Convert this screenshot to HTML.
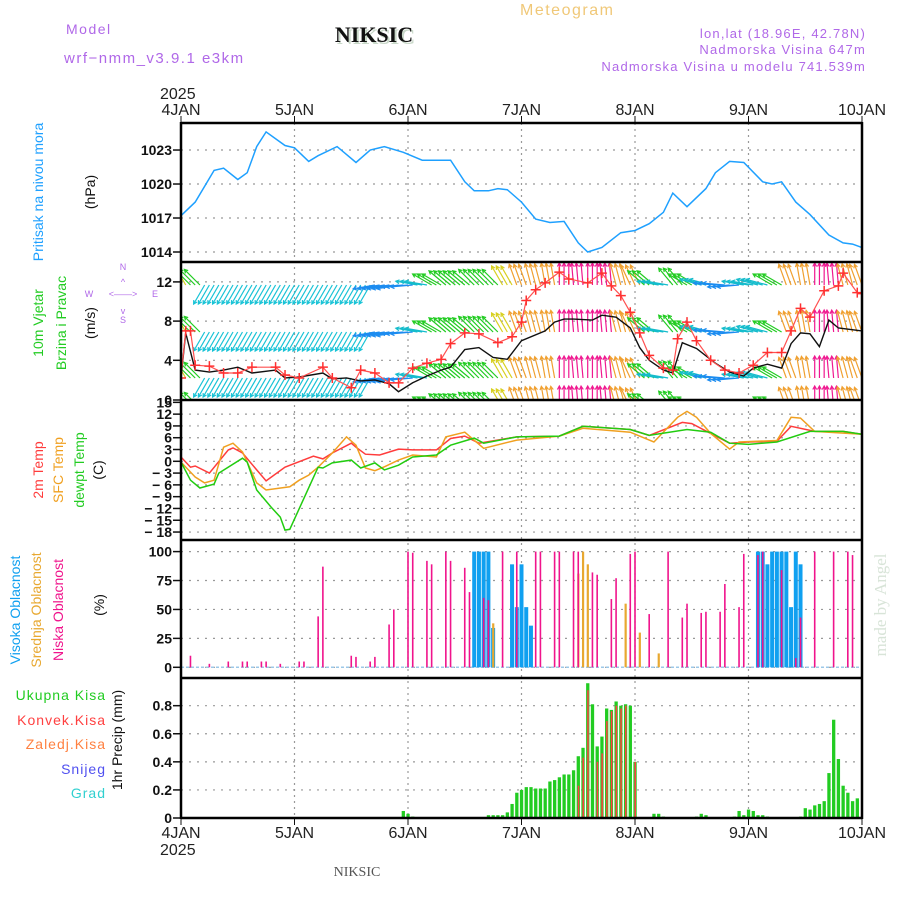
<!DOCTYPE html>
<html><head><meta charset="utf-8"><style>
html,body{margin:0;padding:0;background:#fff;}
svg{display:block;font-family:"Liberation Sans",sans-serif;}
</style></head><body>
<svg id="chart" width="900" height="900" viewBox="0 0 900 900">
<defs>
<clipPath id="cp1"><rect x="181" y="123" width="681" height="139"/></clipPath>
<clipPath id="cp2"><rect x="181" y="263" width="681" height="137"/></clipPath>
<clipPath id="cp3"><rect x="181" y="401" width="681" height="139"/></clipPath>
</defs>
<text x="66" y="34" font-size="14" fill="#b068e8" letter-spacing="1.5">Model</text>
<text x="64" y="63" font-size="15" fill="#b068e8" letter-spacing="1.5">wrf−nmm_v3.9.1 e3km</text>
<text x="376" y="44" font-size="22" font-weight="bold" fill="#c8d8c8" font-family="Liberation Serif,serif" text-anchor="middle">NIKSIC</text>
<text x="374" y="42" font-size="22" font-weight="bold" fill="#111" font-family="Liberation Serif,serif" text-anchor="middle">NIKSIC</text>
<text x="520" y="15" font-size="16" fill="#f0c878" letter-spacing="1.5">Meteogram</text>
<text x="866" y="38" font-size="13" fill="#b068e8" text-anchor="end" letter-spacing="1.2">lon,lat (18.96E, 42.78N)</text>
<text x="866" y="54" font-size="13" fill="#b068e8" text-anchor="end" letter-spacing="1.2">Nadmorska Visina 647m</text>
<text x="866" y="71" font-size="13" fill="#b068e8" text-anchor="end" letter-spacing="1.2">Nadmorska Visina u modelu 741.539m</text>
<text x="160" y="99" font-size="16" fill="#222">2025</text>
<text x="357" y="876" font-size="14" fill="#555" font-family="Liberation Serif,serif" text-anchor="middle">NIKSIC</text>
<text transform="translate(886,605) rotate(-90)" font-size="17" fill="#d8e4d8" font-family="Liberation Serif,serif" text-anchor="middle">made by Angel</text>
<g id="g"></g>
</svg>
<script>
// ---------- DATA ----------
const dayLabels=["4JAN","5JAN","6JAN","7JAN","8JAN","9JAN","10JAN"];
const presTicks=[1014,1017,1020,1023];
const presHours=[0,3,7,9,12,14,16,18,22,24,27,29,33,37,40,43,47,51,57,60,62,65,67,69,72,75,78,81,84,86,89,93,96,99,102,104,107,111,113,116,119,123,125,127,130,133,137,140,142,144];
const presVals=[1017.2,1018.4,1021.2,1021.4,1020.4,1021.0,1023.3,1024.6,1023.4,1023.2,1022.0,1022.5,1023.3,1021.9,1023.0,1023.3,1022.8,1022.1,1022.1,1020.2,1019.4,1019.4,1019.6,1019.5,1018.4,1016.9,1016.6,1016.7,1014.8,1014.0,1014.4,1015.7,1015.9,1016.5,1017.5,1019.2,1018.0,1019.6,1021.0,1022.0,1021.9,1020.2,1020.0,1020.2,1018.4,1017.3,1015.5,1014.8,1014.7,1014.4];
const windTicks=[4,8,12];
const speedHours=[0,1,3,6,9,12,15,20,22,25,30,32,35,38,41,44,46,49,52,55,57,60,63,66,69,72,77,79,81,83,87,89,92,95,97,99,102,104,106,109,113,116,119,121,124,127,129,131,133,135,137,139,144];
const speedVals=[2.2,6.8,3.0,2.8,3.0,3.3,2.7,3.0,2.2,2.3,2.7,2.1,2.2,1.9,2.0,1.6,0.8,1.7,2.4,3.0,3.3,5.1,5.3,4.3,4.1,6.0,7.0,7.9,8.2,8.2,8.1,8.6,8.4,7.3,5.3,4.0,3.0,2.7,5.8,5.2,3.7,2.8,2.4,3.2,3.6,3.2,5.7,6.8,6.7,5.4,8.1,7.3,7.0];
const gustHours=[0,1,2,3,6,9,12,15,20,22,25,30,32,36,38,41,44,46,49,52,55,57,60,63,67,70,72,73,75,77,80,82,86,89,91,93,95,97,99,102,104,105,107,109,112,115,118,121,124,127,129,131,133,136,139,140,143,144];
const gustVals=[2.2,7.0,7.0,3.5,3.4,2.7,2.7,3.3,3.3,2.5,2.2,3.3,2.2,1.2,3.0,2.7,1.7,1.7,3.2,3.7,4.1,5.7,6.8,6.7,5.8,6.4,7.9,10.1,11.2,11.9,13.0,12.3,11.9,12.9,11.6,10.6,8.9,6.8,4.5,3.2,3.0,6.2,7.9,6.0,4.0,3.0,2.7,3.5,4.8,4.8,7.0,9.3,8.4,11.1,11.6,12.9,10.9,10.8];
// wind direction (arrow pointing angle, deg clockwise from up) every 3 h
const windDir=[-30,-45,-150,-150,-150,-150,-150,-150,-150,-150,-150,-150,-150,-150,-100,-100,-95,-80,-60,-50,-50,-45,-45,-30,-20,-15,-10,0,-5,0,-5,-15,-25,-50,-80,-40,-60,-75,-85,-95,-80,-75,-60,-20,-10,0,-5,-15,-20];
const tempTicks=[15,12,9,6,3,0,-3,-6,-9,-12,-15,-18];
const t2Hours=[0,2,3,6,10,11,13,16,18,22,28,30,32,36,37,39,42,46,49,54,57,60,63,71,80,85,95,99,106,108,112,116,120,126,129,134,140,144];
const t2Vals=[1.1,-1.5,-1.2,-3.0,2.9,3.4,2.1,-2.2,-5.0,-1.5,1.3,0.6,2.1,4.6,3.6,1.8,1.6,3.1,2.9,2.9,5.8,6.4,4.6,6.2,6.4,8.9,8.1,6.6,9.9,9.6,7.1,4.6,4.9,5.1,8.9,7.6,7.6,6.9];
const sfcHours=[0,3,5,7,9,11,13,16,18,23,25,27,29,32,35,37,39,41,43,46,49,54,56,60,64,71,80,85,95,100,105,107,109,112,116,118,126,129,131,134,144];
const sfcVals=[-0.2,-4,-5.5,-4.8,3.6,4.6,2.4,-5.5,-7.3,-6.5,-4.8,-3.5,-1.5,2.1,6.2,4.1,-1.7,-2.4,-1.4,0.3,1.6,1.1,6.2,7.4,3.3,5.4,6.4,8.4,7.4,4.9,11.2,12.7,11.2,7.1,3.1,4.9,5.3,11.2,11.0,7.6,6.9];
const dewHours=[0,2,4,7,8,13,14,16,19,21,22,23,29,30,32,36,38,41,43,46,49,54,57,62,64,71,80,85,95,99,107,112,116,120,126,133,140,144];
const dewVals=[-0.2,-4.8,-6.8,-5.8,-3.0,0.8,-0.2,-7.3,-11.6,-14.2,-17.5,-17.3,-1.5,-1.7,-0.4,0.3,-1.7,-0.4,-2.2,-1,1.1,1.6,4.1,5.9,4.6,6.2,6.4,8.9,8.1,6.6,8.1,7.4,4.6,4.3,4.9,7.6,7.6,6.9];
const cloudTicks=[0,25,50,75,100];
const lowHours=[2,6,10,13,14,17,18,21,25,26,29,30,36,37,40,41,44,45,48,49,52,53,56,57,60,61,64,65,68,71,75,76,79,80,83,84,87,88,91,92,95,96,99,103,106,107,110,111,114,115,118,119,122,123,127,130,131,134,138,141,142];
const lowVals=[10,3,5,5,5,5,5,3,5,5,44,87,10,9,5,9,37,50,100,99,92,89,100,92,86,65,60,58,100,100,100,100,100,100,100,100,82,80,59,77,98,100,46,100,43,55,47,48,48,72,52,98,97,100,84,8,43,100,100,100,97];
const midHours=[66,84,85,86,94,97,101];
const midVals=[38,81,100,89,55,30,12];
const highHours=[62,63,64,65,66,70,71,72,73,74,122,123,124,125,126,127,128,129,130,131];
const highVals=[100,100,100,100,34,89,52,89,52,36,100,100,89,100,100,100,100,52,100,89];
const precipTicks=[0,0.2,0.4,0.6,0.8];
const rainHours=[47,48,49,62,65,66,67,68,69,70,71,72,73,74,75,76,77,78,79,80,81,82,83,84,85,86,87,88,89,90,91,92,93,94,95,96,100,101,102,109,110,111,117,118,119,120,121,122,123,124,131,132,133,134,135,136,137,138,139,140,141,142,143];
const rainVals=[0.05,0.03,0.01,0.005,0.02,0.02,0.02,0.02,0.04,0.10,0.18,0.20,0.22,0.22,0.21,0.21,0.21,0.26,0.27,0.29,0.31,0.31,0.34,0.44,0.50,0.96,0.81,0.51,0.58,0.78,0.77,0.83,0.80,0.81,0.80,0.40,0.03,0.03,0.01,0.01,0.03,0.02,0.01,0.05,0.02,0.06,0.05,0.02,0.02,0.01,0.01,0.07,0.06,0.09,0.10,0.12,0.32,0.70,0.42,0.23,0.18,0.12,0.14];
const convHours=[84,85,86,88,89,90,91,92,93,94,96];
const convVals=[0.23,0.43,0.91,0.40,0.46,0.69,0.76,0.80,0.78,0.80,0.40];

// ---------- AXES ----------
const X0=181,X1=862,H=144;
const xh=h=>X0+h*(X1-X0)/H;
const yPres=p=>252-(p-1014)*11.33;
const yWind=v=>399.5-v*9.8;
const yTemp=t=>461.3-t*3.93;
const yCloud=c=>667.3-c*1.157;
const yPrec=v=>818-v*140.4;
const NS="http://www.w3.org/2000/svg";
const G=document.getElementById('g');
function el(tag,attrs,parent,txt){const e=document.createElementNS(NS,tag);for(const k in attrs)e.setAttribute(k,attrs[k]);if(txt!==undefined)e.textContent=txt;(parent||G).appendChild(e);return e;}
function grp(clip){const g=el('g',clip?{'clip-path':'url(#'+clip+')'}:{});return g;}
const panels=[[123,262],[262,400],[400,540],[540,678],[678,818]];

for(let d=1;d<6;d++){const x=xh(d*24);
 const l=el('line',{x1:x,y1:123,x2:x,y2:818,stroke:'#999','stroke-dasharray':'2,4','stroke-width':1.2});
 
 }
function hgrid(y,name){const l=el('line',{x1:X0,y1:y,x2:X1,y2:y,stroke:'#999','stroke-dasharray':'2,6','stroke-width':1.2});
 
 }
function ytick(y,label,name){
 const t=el('text',{x:172,y:y+5,'font-size':14,'text-anchor':'end',fill:'#111','font-weight':'bold'},null,label);
 
 
 el('line',{x1:173,y1:y,x2:181,y2:y,stroke:'#111','stroke-width':1.5});}
presTicks.forEach(p=>{hgrid(yPres(p),'pressure-gridline');ytick(yPres(p),String(p),'pressure-tick');});
windTicks.forEach(v=>{hgrid(yWind(v),'wind-gridline');ytick(yWind(v),String(v),'wind-tick');});
ytick(400,'0','wind-tick-zero');
tempTicks.forEach(t=>{if(t<15)hgrid(yTemp(t),'temp-gridline');ytick(yTemp(t),t<0?'− '+(-t):String(t),'temp-tick');});
cloudTicks.forEach(c=>{hgrid(yCloud(c),'cloud-gridline');ytick(yCloud(c),String(c),'cloud-tick');});
precipTicks.forEach(v=>{if(v>0)hgrid(yPrec(v),'precip-gridline');ytick(yPrec(v),v===0?'0':v.toFixed(1),'precip-tick');});

dayLabels.forEach((d,i)=>{const x=xh(i*24);
 const a=el('text',{x:x,y:115,'font-size':16,'text-anchor':'middle',fill:'#222'},null,d);
 
 
 const b=el('text',{x:x,y:838,'font-size':16,'text-anchor':'middle',fill:'#222'},null,d);
 
 
 el('line',{x1:x,y1:116,x2:x,y2:123,stroke:'#111'});
 el('line',{x1:x,y1:818,x2:x,y2:825,stroke:'#111'});});
{const t=el('text',{x:160,y:855,'font-size':16,fill:'#222'},null,'2025');
 
 }

function pathOf(hs,vs,yf){return hs.map((h,i)=>(i?'L':'M')+xh(h).toFixed(1)+' '+yf(vs[i]).toFixed(1)).join(' ');}

{const p=el('path',{d:pathOf(presHours,presVals,yPres),fill:'none',stroke:'#1ea0ff','stroke-width':1.5},grp('cp1'));
 
 }

function dirColor(a){
 if(a<=-130)return '#19c3d6';
 if(a<=-105)return '#6a4af0';
 if(a<=-85)return '#1c8cf0';
 if(a<=-65)return '#14bccc';
 if(a<=-40)return '#22cc22';
 if(a<=-26)return '#d8d020';
 if(a<=-8)return '#f0a030';
 return '#f01890';}
const wg=grp('cp2');


const rowBase=[285,332,378,408];
rowBase.forEach((b,ri)=>{
 for(let h=0;h<=H;h++){
  const a=windDir[Math.round(h/3)];
  const r=a*Math.PI/180,L=22;
  const x=xh(h),y=b;
  const x2=x+L*Math.sin(r),y2=y-L*Math.cos(r);
  const c=dirColor(a);
  const ar=el('path',{d:`M${x} ${y}L${x2} ${y2}M${x2-4*Math.sin(r-0.5)} ${y2+4*Math.cos(r-0.5)}L${x2} ${y2}L${x2-4*Math.sin(r+0.5)} ${y2+4*Math.cos(r+0.5)}`,stroke:c,'stroke-width':1.2,fill:'none'},wg);
  
  
 }});
{const wl=grp('cp2');
 const p=el('path',{d:pathOf(speedHours,speedVals,yWind),fill:'none',stroke:'#111','stroke-width':1.4},wl);
 
 
 const q=el('path',{d:pathOf(gustHours,gustVals,yWind),fill:'none',stroke:'#ff5050','stroke-width':1.2},wl);
 
 
 gustHours.forEach((h,i)=>{const x=xh(h),y=yWind(gustVals[i]);
  const m=el('path',{d:`M${x-5} ${y}H${x+5}M${x} ${y-5}V${y+5}`,stroke:'#ff3030','stroke-width':1.5},wl);
  
  });}

{const tg=grp('cp3');
 [[t2Hours,t2Vals,'#ff3c3c','temp-2m-line'],[sfcHours,sfcVals,'#f0a020','temp-sfc-line'],[dewHours,dewVals,'#22cc10','dewpoint-line']].forEach(s=>{
  const p=el('path',{d:pathOf(s[0],s[1],yTemp),fill:'none',stroke:s[2],'stroke-width':1.5},tg);
  
  });}

el('line',{x1:X0,y1:667.3,x2:X1,y2:667.3,stroke:'#9cc8e8','stroke-width':1.5,'stroke-dasharray':'3,2'});
highHours.forEach((h,i)=>{const y=yCloud(highVals[i]);
 const r=el('rect',{x:xh(h)-2,y:y,width:4,height:667.3-y,fill:'#10a0f0'});
 
 });
midHours.forEach((h,i)=>{const y=yCloud(midVals[i]);
 const r=el('rect',{x:xh(h)-1,y:y,width:2.2,height:667.3-y,fill:'#e8a830'});
 
 });
lowHours.forEach((h,i)=>{const y=yCloud(lowVals[i]);
 const r=el('rect',{x:xh(h)-0.8,y:y,width:1.6,height:667.3-y,fill:'#f0148c'});
 
 });

rainHours.forEach((h,i)=>{const y=yPrec(rainVals[i]);
 const r=el('rect',{x:xh(h)-1.6,y:y,width:3.3,height:818-y,fill:'#22cc22'});
 
 });
convHours.forEach((h,i)=>{const y=yPrec(convVals[i]);
 const r=el('rect',{x:xh(h)-0.5,y:y,width:1.5,height:818-y,fill:'#ff4040'});
 
 });

panels.forEach(p=>{el('line',{x1:X0,y1:p[0],x2:X1,y2:p[0],stroke:'#000','stroke-width':2.5});});
el('line',{x1:X0,y1:818,x2:X1,y2:818,stroke:'#000','stroke-width':2.5});
el('line',{x1:X0,y1:122,x2:X0,y2:819,stroke:'#000','stroke-width':2.5});
el('line',{x1:X1,y1:122,x2:X1,y2:819,stroke:'#000','stroke-width':2.5});

function vlab(x,y,txt,color,name,size){
 const t=el('text',{transform:`translate(${x},${y}) rotate(-90)`,'font-size':size||14,'text-anchor':'middle',fill:color},null,txt);
 
 }
vlab(43,192,'Pritisak na nivou mora','#1ea0ff','pressure-title');
vlab(95,192,'(hPa)','#111','pressure-unit');
vlab(43,323,'10m Vjetar','#22cc22','wind-title');
vlab(66,323,'Brzina i Pravac','#22cc22','wind-subtitle');
vlab(95,323,'(m/s)','#111','wind-unit');
vlab(43,470,'2m Temp','#ff3c3c','temp-2m-title');
vlab(63,470,'SFC Temp','#f0a020','temp-sfc-title');
vlab(84,470,'dewpt Temp','#22cc22','dewpt-title');
vlab(103,470,'(C)','#111','temp-unit');
vlab(20,610,'Visoka Oblacnost','#10a0f0','high-cloud-title');
vlab(41,610,'Srednja Oblacnost','#e8a830','mid-cloud-title');
vlab(63,610,'Niska Oblacnost','#f0148c','low-cloud-title');
vlab(104,605,'(%)','#111','cloud-unit');
vlab(122,740,'1hr Precip (mm)','#111','precip-title');
[['Ukupna  Kisa','#22cc22',700],['Konvek.Kisa','#ff4040',725],['Zaledj.Kisa','#ff8040',749],['Snijeg','#5050f0',774],['Grad','#30d0d0',798]].forEach(l=>{
 const t=el('text',{x:106,y:l[2],'font-size':14,'text-anchor':'end',fill:l[1],'letter-spacing':1},null,l[0]);
 
 });
[['N',123,270],['S',123,323],['W',89,297],['E',155,297]].forEach(c=>{
 const t=el('text',{x:c[1],y:c[2],'font-size':9,'text-anchor':'middle',fill:'#b068e8'},null,c[0]);
 
 });
el('text',{x:123,y:297,'font-size':9,'text-anchor':'middle',fill:'#b068e8'},null,'<——>');
el('text',{x:123,y:285,'font-size':9,'text-anchor':'middle',fill:'#b068e8'},null,'^');
el('text',{x:123,y:314,'font-size':9,'text-anchor':'middle',fill:'#b068e8'},null,'v');
</script>
</body></html>
